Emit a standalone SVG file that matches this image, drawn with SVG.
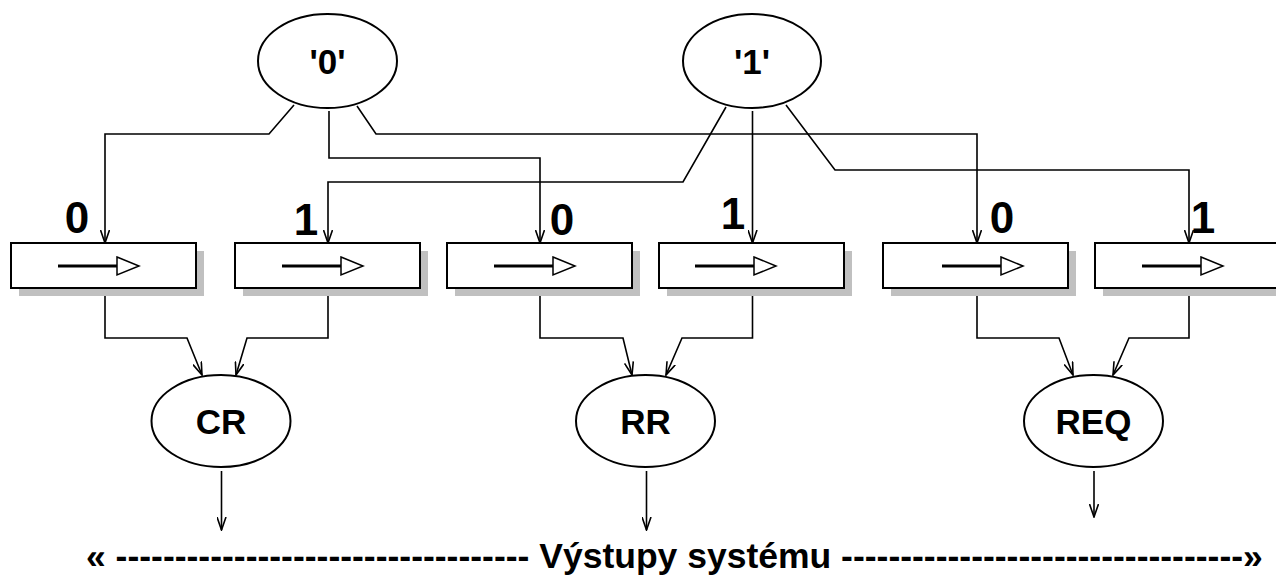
<svg xmlns="http://www.w3.org/2000/svg" width="1276" height="580" viewBox="0 0 1276 580">
  <style>
    .lbl { font-family: "Liberation Sans", Arial, sans-serif; font-weight: bold; fill: #000; }
    .node { fill: #fff; stroke: #000; stroke-width: 2; }
    .shadow { fill: #c0c0c0; }
    .conn { fill: none; stroke: #000; stroke-width: 1.6; marker-end: url(#arr); }
    .flow { stroke: #000; stroke-width: 3; }
    .tri { fill: #fff; stroke: #000; stroke-width: 1.5; }
  </style>
  <defs>
    <marker id="arr" viewBox="0 0 14 10" refX="13" refY="5" markerWidth="14" markerHeight="10" markerUnits="userSpaceOnUse" orient="auto">
      <path d="M0,0.5 L13,5 L0,9.5" fill="none" stroke="#000" stroke-width="1.6"/>
    </marker>
  </defs>

  <rect width="1276" height="580" fill="#fff"/>

  <!-- connectors -->
  <g id="connectors">
    <path class="conn" d="M294,105 L269,134 L105,134 L105,243"/>
    <path class="conn" d="M329,111 L329,158 L540,158 L540,243"/>
    <path class="conn" d="M357,106 L376,134 L977,134 L977,243"/>
    <path class="conn" d="M726,107 L683,182 L328,182 L328,243"/>
    <path class="conn" d="M752.5,111 L752.5,243"/>
    <path class="conn" d="M786,105 L835,170 L1189,170 L1189,243"/>

    <path class="conn" d="M105,288 L105,338 L187,338 L202,375"/>
    <path class="conn" d="M328,288 L328,338 L247,338 L236,375"/>
    <path class="conn" d="M540,288 L540,338 L623,338 L632,375"/>
    <path class="conn" d="M752.5,288 L752.5,338 L682,338 L666,375"/>
    <path class="conn" d="M977,288 L977,338 L1059,338 L1073,375"/>
    <path class="conn" d="M1189,288 L1189,338 L1129,338 L1113,375"/>

    <path class="conn" d="M221.5,471 L221.5,530"/>
    <path class="conn" d="M646.5,471 L646.5,530"/>
    <path class="conn" d="M1094,471 L1094,517"/>
  </g>

  <!-- constant sources -->
  <g id="src0">
    <ellipse class="node" cx="327.5" cy="61" rx="69.5" ry="47"/>
    <text class="lbl" x="327.5" y="74" font-size="35" text-anchor="middle">'0'</text>
  </g>
  <g id="src1">
    <ellipse class="node" cx="752" cy="61" rx="69" ry="47"/>
    <text class="lbl" x="752" y="74" font-size="35" text-anchor="middle">'1'</text>
  </g>

  <!-- shift registers -->
  <g id="reg1">
    <rect class="shadow" x="19" y="251" width="185" height="45"/>
    <rect class="node" x="11" y="243" width="185" height="45"/>
    <line class="flow" x1="58" y1="266" x2="117" y2="266"/>
    <polygon class="tri" points="117,257 139,266 117,275"/>
    <text class="lbl" x="77" y="233" font-size="44" text-anchor="middle">0</text>
  </g>
  <g id="reg2">
    <rect class="shadow" x="243" y="251" width="185" height="45"/>
    <rect class="node" x="235" y="243" width="185" height="45"/>
    <line class="flow" x1="282" y1="266" x2="341" y2="266"/>
    <polygon class="tri" points="341,257 363,266 341,275"/>
    <text class="lbl" x="306" y="235" font-size="44" text-anchor="middle">1</text>
  </g>
  <g id="reg3">
    <rect class="shadow" x="455" y="251" width="185" height="45"/>
    <rect class="node" x="447" y="243" width="185" height="45"/>
    <line class="flow" x1="494" y1="266" x2="553" y2="266"/>
    <polygon class="tri" points="553,257 575,266 553,275"/>
    <text class="lbl" x="562" y="235" font-size="44" text-anchor="middle">0</text>
  </g>
  <g id="reg4">
    <rect class="shadow" x="667" y="251" width="185" height="45"/>
    <rect class="node" x="659" y="243" width="185" height="45"/>
    <line class="flow" x1="695" y1="266" x2="754" y2="266"/>
    <polygon class="tri" points="754,257 776,266 754,275"/>
    <text class="lbl" x="733" y="229" font-size="44" text-anchor="middle">1</text>
  </g>
  <g id="reg5">
    <rect class="shadow" x="891" y="251" width="185" height="45"/>
    <rect class="node" x="883" y="243" width="185" height="45"/>
    <line class="flow" x1="942" y1="266" x2="1001" y2="266"/>
    <polygon class="tri" points="1001,257 1023,266 1001,275"/>
    <text class="lbl" x="1002" y="233" font-size="44" text-anchor="middle">0</text>
  </g>
  <g id="reg6">
    <rect class="shadow" x="1103" y="251" width="185" height="45"/>
    <rect class="node" x="1095" y="243" width="185" height="45"/>
    <line class="flow" x1="1142" y1="266" x2="1201" y2="266"/>
    <polygon class="tri" points="1201,257 1223,266 1201,275"/>
    <text class="lbl" x="1203" y="233" font-size="44" text-anchor="middle">1</text>
  </g>

  <!-- outputs -->
  <g id="cr">
    <ellipse class="node" cx="221" cy="421" rx="69.5" ry="46"/>
    <text class="lbl" x="221" y="434" font-size="35" text-anchor="middle">CR</text>
  </g>
  <g id="rr">
    <ellipse class="node" cx="645.5" cy="421" rx="69.5" ry="46"/>
    <text class="lbl" x="645.5" y="434" font-size="35" text-anchor="middle">RR</text>
  </g>
  <g id="req">
    <ellipse class="node" cx="1093.5" cy="421" rx="69.5" ry="46"/>
    <text class="lbl" x="1093.5" y="434" font-size="35" text-anchor="middle">REQ</text>
  </g>

  <g id="caption">
    <text class="lbl" x="86" y="568" font-size="35.5">« ----------------------------------- Výstupy systému ----------------------------------»</text>
  </g>
</svg>
